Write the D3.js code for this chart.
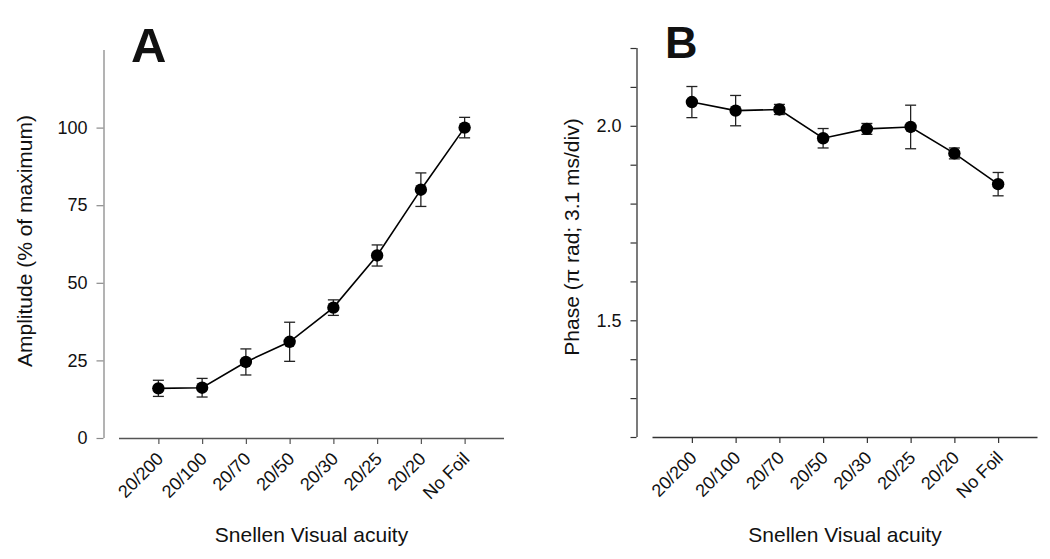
<!DOCTYPE html>
<html>
<head>
<meta charset="utf-8">
<script src="https://cdn.jsdelivr.net/npm/d3@7"></script>
<style>
  html, body { margin: 0; padding: 0; background: #fff; }
  svg { display: block; }
  text { font-family: "Liberation Sans", Arial, Helvetica, sans-serif; fill: #111; }
</style>
</head>
<body>
<svg id="chart" width="1050" height="559"></svg>
<script>
// ---- data ----
const categories = ["20/200", "20/100", "20/70", "20/50", "20/30", "20/25", "20/20", "No Foil"];
const amplitudeMean = [16.0, 16.2, 24.5, 31.0, 42.0, 58.8, 80.0, 100.0];
const amplitudeErr  = [2.6, 3.0, 4.2, 6.3, 2.5, 3.4, 5.4, 3.3];
const phaseMean = [2.061, 2.039, 2.042, 1.968, 1.992, 1.997, 1.929, 1.850];
const phaseErr  = [0.040, 0.039, 0.013, 0.025, 0.014, 0.056, 0.014, 0.030];
const amplitudeTicks = [0, 25, 50, 75, 100];
const amplitudeTickLabels = ["0", "25", "50", "75", "100"];
const phaseTicks = [1.2, 1.3, 1.4, 1.5, 1.6, 1.7, 1.8, 1.9, 2.0, 2.1, 2.2];
const phaseTickLabels = ["", "", "", "1.5", "", "", "", "", "2.0", "", ""];

const svg = d3.select("#chart");

function drawPanel(cfg) {
  const g = svg.append("g");
  const x = d3.scalePoint().domain(categories).range([cfg.xLeft, cfg.xRight]).padding(0.9);
  const y = d3.scaleLinear().domain(cfg.yDomain).range([cfg.yBottom, cfg.yTop]);

  // y axis
  const yAxis = d3.axisLeft(y)
    .tickValues(cfg.yTicks)
    .tickFormat((d, i) => cfg.yTickLabels[i])
    .tickSizeOuter(0)
    .tickSizeInner(cfg.yTickSize)
    .tickPadding(cfg.yTickPad);
  const ya = g.append("g").attr("transform", `translate(${cfg.yAxisX},0)`).call(yAxis);
  ya.attr("font-size", null).attr("font-family", null);
  ya.select(".domain").attr("stroke", cfg.yAxisColor).attr("stroke-width", 1.3)
    .attr("d", `M0.5,${cfg.yTop}V${cfg.yBottom}`);
  ya.selectAll(".tick line").attr("stroke", cfg.yAxisColor).attr("stroke-width", 1.2);
  ya.selectAll(".tick text").style("font-size", "18px").attr("fill", "#1a1a1a");

  // x axis
  const xAxis = d3.axisBottom(x).tickSizeOuter(0).tickSizeInner(6).tickFormat(() => "");
  const xa = g.append("g").attr("transform", `translate(0,${cfg.yBottom})`).call(xAxis);
  xa.select(".domain").attr("stroke", cfg.xAxisColor).attr("stroke-width", 1.3)
    .attr("d", `M${cfg.xLeft},0.5H${cfg.xRight}`);
  xa.selectAll(".tick line").attr("stroke", cfg.xAxisColor).attr("stroke-width", 1.2);

  // rotated category labels
  g.append("g").selectAll("text").data(categories).join("text")
    .attr("transform", d => `translate(${x(d) + 6},${cfg.yBottom + 22}) rotate(-45)`)
    .attr("text-anchor", "end")
    .style("font-size", "18px")
    .text(d => d);

  // error bars
  const cap = 5.5;
  const eb = g.append("g").attr("stroke", "#222").attr("stroke-width", 1.3).attr("fill", "none");
  categories.forEach((c, i) => {
    const cx = x(c);
    const y1 = y(cfg.mean[i] + cfg.err[i]);
    const y0 = y(cfg.mean[i] - cfg.err[i]);
    eb.append("line").attr("x1", cx).attr("x2", cx).attr("y1", y1).attr("y2", y0);
    eb.append("line").attr("x1", cx - cap).attr("x2", cx + cap).attr("y1", y1).attr("y2", y1);
    eb.append("line").attr("x1", cx - cap).attr("x2", cx + cap).attr("y1", y0).attr("y2", y0);
  });

  // line
  const line = d3.line().x((d, i) => x(categories[i])).y(d => y(d));
  g.append("path").datum(cfg.mean).attr("d", line)
    .attr("fill", "none").attr("stroke", "#000").attr("stroke-width", 1.6);

  // markers
  g.append("g").selectAll("circle").data(cfg.mean).join("circle")
    .attr("cx", (d, i) => x(categories[i])).attr("cy", d => y(d))
    .attr("r", 6.2).attr("fill", "#000");

  // panel letter
  g.append("text").attr("x", cfg.letterX).attr("y", cfg.letterY)
    .style("font-size", cfg.letterSize + "px").attr("font-weight", "bold").attr("fill", "#000")
    .text(cfg.letter);

  // y label
  g.append("text")
    .attr("transform", `translate(${cfg.yLabelX},${cfg.yLabelY}) rotate(-90)`)
    .attr("text-anchor", "middle").style("font-size", "21px")
    .text(cfg.yLabel);

  // x label
  g.append("text")
    .attr("x", (cfg.xLeft + cfg.xRight) / 2).attr("y", 542)
    .attr("text-anchor", "middle").style("font-size", "21px")
    .text("Snellen Visual acuity");
}

drawPanel({
  xLeft: 119, xRight: 504, yAxisX: 103.5, yTop: 50, yBottom: 438,
  yDomain: [0, 125], yTicks: amplitudeTicks, yTickLabels: amplitudeTickLabels,
  yTickSize: 7, yTickPad: 9, yAxisColor: "#8a8a8a", xAxisColor: "#555",
  mean: amplitudeMean, err: amplitudeErr,
  letter: "A", letterX: 131, letterY: 61.5, letterSize: 49,
  yLabel: "Amplitude (% of maximum)", yLabelX: 32, yLabelY: 241
});

drawPanel({
  xLeft: 652.5, xRight: 1037.5, yAxisX: 636.5, yTop: 48, yBottom: 437,
  yDomain: [1.2, 2.2], yTicks: phaseTicks, yTickLabels: phaseTickLabels,
  yTickSize: 6, yTickPad: 9, yAxisColor: "#333", xAxisColor: "#333",
  mean: phaseMean, err: phaseErr,
  letter: "B", letterX: 665, letterY: 57.5, letterSize: 45,
  yLabel: "Phase (\u03c0 rad; 3.1 ms/div)", yLabelX: 578.5, yLabelY: 237
});
</script>
</body>
</html>
